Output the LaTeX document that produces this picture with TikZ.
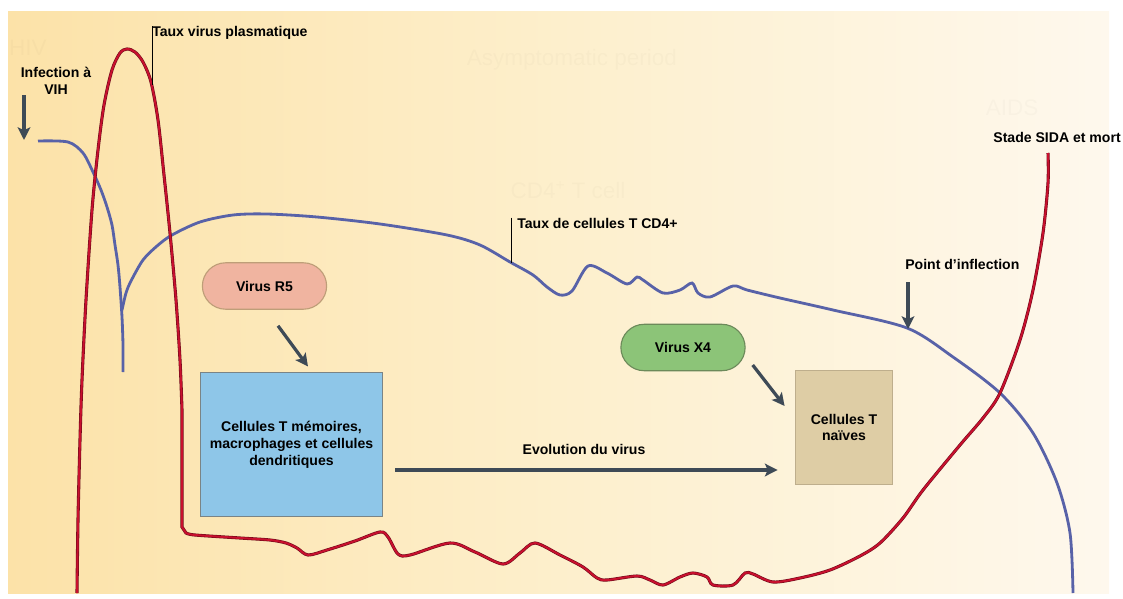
\documentclass[tikz,border=0pt]{standalone}
\usepackage{fontspec}
\setmainfont{Liberation Sans}
\usepackage{tikz}
\usetikzlibrary{calc,shapes.misc,arrows.meta}

\definecolor{bgleft}{RGB}{252,226,168}
\definecolor{bgmid}{RGB}{253,239,204}
\definecolor{bgright}{RGB}{254,248,237}
\definecolor{plasmared}{RGB}{200,16,46}
\definecolor{plasmadark}{RGB}{110,10,25}
\definecolor{cdblue}{RGB}{88,98,168}
\definecolor{arrowgray}{RGB}{62,74,86}
\definecolor{rfill}{RGB}{240,180,160}
\definecolor{rdraw}{RGB}{190,158,120}
\definecolor{xfill}{RGB}{140,196,120}
\definecolor{xdraw}{RGB}{108,138,90}
\definecolor{memfill}{RGB}{142,198,232}
\definecolor{memdraw}{RGB}{122,132,134}
\definecolor{naivefill}{RGB}{222,205,165}
\definecolor{naivedraw}{RGB}{190,174,140}

\begin{document}
\begin{tikzpicture}[x=0.025cm,y=-0.025cm,
	lbl/.style={inner sep=0pt,font=\fontsize{10}{12}\selectfont,align=center},
	ghost/.style={inner sep=0pt,font=\fontsize{16}{18}\selectfont,text=black,text opacity=0.02,align=left},
	pill/.style={shape=rounded rectangle,minimum width=95pt,minimum height=33pt,line width=0.8pt,font=\fontsize{10}{12}\selectfont},
	cellbox/.style={shape=rectangle,line width=0.8pt,align=center,font=\fontsize{10}{12}\selectfont},
	arr/.style={draw=arrowgray,line width=2.3pt,-{Stealth[length=9pt,width=9pt,inset=2pt]}},
	lead/.style={draw=black,line width=0.7pt},
	virus/.style={draw=plasmared,line width=1.4pt,preaction={draw=plasmadark,line width=2.2pt}},
	cdfour/.style={draw=cdblue,line width=2pt}]
	\useasboundingbox (0,0) rectangle (1123,598);
	\shade[left color=bgleft,right color=bgright,middle color=bgmid] (8,11) rectangle (1109,593);

	\node[ghost] (ghiv) at (28,48) {HIV};
	\node[ghost] (gasym) at (572,60) {Asymptomatic period};
	\node[ghost] (gcell) at (568,190) {CD4\textsuperscript{+} T cell};
	\node[ghost] (gaids) at (1012,108) {AIDS};

	\draw[cdfour] plot[smooth] coordinates {(38,141) (68,142) (83,153) (93,172) (101,190) (107,207) (112,225) (115,245) (118,265) (120,287) (122,317) (123,345) (123,372)};
	\draw[cdfour] plot[smooth] coordinates {(122,310) (126,293) (131,281) (143,260) (157,246) (172,235) (200,222) (233,215) (267,214) (317,217) (380,224) (447,235) (480,245) (510,262) (533,275) (547,287) (560,295) (572,291) (588,266) (607,273) (627,284) (637,277) (643,280) (663,293) (680,290) (692,283) (698,293) (710,297) (733,286) (747,290) (780,298) (833,310) (907,328) (953,357) (1000,393) (1033,433) (1057,483) (1070,533) (1073,593)};

	\draw[virus] plot[smooth] coordinates {(77,593) (78,520) (80,440) (82,380) (86,300) (92,210) (98,150) (104,105) (112,70) (120,53) (127,49) (135,52) (143,62) (151,82) (158,120) (164,175) (170,233) (176,300) (180,360) (182,410)} -- (182,527) -- plot[smooth] coordinates {(186,533) (195,535) (240,538) (270,540) (286,543) (297,548) (308,555) (327,550) (355,541) (380,532) (388,537) (398,554) (410,555) (450,543) (475,552) (503,564) (520,553) (535,543) (560,555) (583,567) (597,578) (607,580) (637,576) (650,580) (663,585) (680,577) (693,573) (707,577) (713,585) (733,585) (745,573) (753,574) (773,582) (800,578) (830,570) (860,556) (880,543) (903,518) (923,490) (960,445) (983,418) (1000,393) (1020,340) (1033,290) (1043,233) (1048,183) (1048,153)};

	\coordinate (pv) at (152,85);
	\coordinate (pc) at (511,263);
	\coordinate (ip) at (908,329);
	\coordinate (inf) at (24,140);

	\node[pill,fill=rfill,draw=rdraw] (r5) at (264.5,286) {\textbf{Virus R5}};
	\node[pill,fill=xfill,draw=xdraw] (x4) at (683,347.5) {\textbf{Virus X4}};
	\node[cellbox,fill=memfill,draw=memdraw,minimum width=130pt,minimum height=103pt] (mem) at (291.5,444.5) {\textbf{Cellules T mémoires,}\\\textbf{macrophages et cellules}\\\textbf{dendritiques}};
	\node[cellbox,fill=naivefill,draw=naivedraw,minimum width=69.5pt,minimum height=81.5pt] (naive) at (844,427.5) {\textbf{Cellules T}\\\textbf{naïves}};

	\node[lbl,anchor=west] (lblvirus) at (152,33) {\textbf{Taux virus plasmatique}};
	\node[lbl] (lblinf) at (56,81) {\textbf{Infection à}\\\textbf{VIH}};
	\node[lbl,anchor=west] (lblcd4) at (517,223) {\textbf{Taux de cellules T CD4+}};
	\node[lbl,anchor=west] (lblinflex) at (905,264) {\textbf{Point d’inflection}};
	\node[lbl,anchor=east] (lblsida) at (1121,137) {\textbf{Stade SIDA et mort}};
	\node[lbl] (lblevol) at (584,449) {\textbf{Evolution du virus}};

	\draw[lead] (lblvirus.north west) -- (pv);
	\draw[lead] ($(lblcd4.north west)+(-6,0)$) -- (pc);
	\draw[arr] ($(inf)+(0,-45)$) -- (inf);
	\draw[arr] ($(ip)+(0,-47)$) -- (ip);
	\draw[arr] ($(r5.south)+(13.5,16)$) -- ($(mem.north)+(16.5,-5)$);
	\draw[arr] ($(x4.east)+(7,17.5)$) -- ($(naive.west)+(-10,-21.5)$);
	\draw[arr] ($(mem.east)+(12,25.5)$) -- ($(naive.west)+(-17,42.5)$);
\end{tikzpicture}
\end{document}
